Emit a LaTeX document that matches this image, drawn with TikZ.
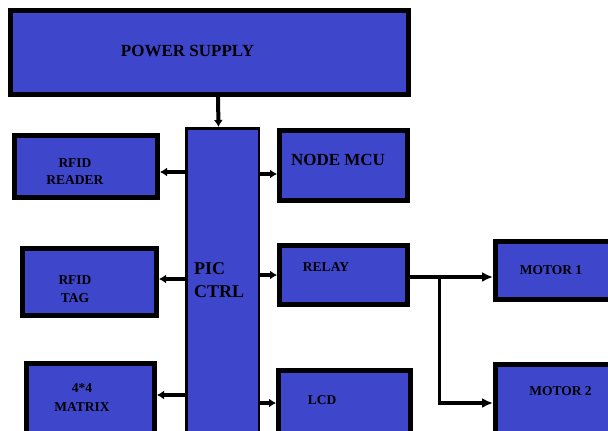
\documentclass[tikz,border=0pt]{standalone}
\usepackage{fontspec}
\setmainfont{Liberation Serif}
\usetikzlibrary{arrows.meta}
\definecolor{boxblue}{RGB}{62,71,204}
\begin{document}
\begin{tikzpicture}[x=1pt,y=-1pt,
  blk/.style={draw=black,line width=5pt,fill=boxblue,rectangle,inner sep=0pt},
  lbl/.style={font=\bfseries\fontsize{13.5}{17.5}\selectfont,align=center,inner sep=0pt},
  biglbl/.style={font=\bfseries\fontsize{17}{21}\selectfont,align=center,inner sep=0pt},
  arr/.style={line width=4pt,-{Latex[length=7pt,width=9pt]}},
  longarr/.style={line width=4.5pt,-{Latex[length=11pt,width=10pt]}}]
\clip (0,0) rectangle (608,431);
\fill[white] (0,0) rectangle (608,431);
% boxes
\node[blk,minimum width=398pt,minimum height=84pt] (power) at (209.5,52.5) {};
\node[draw=black,line width=2.5pt,fill=boxblue,inner sep=0pt,minimum width=72.5pt,minimum height=315.5pt] (pic) at (222.5,286) {};
\node[blk,minimum width=143pt,minimum height=62pt] (reader) at (86,166.5) {};
\node[blk,minimum width=128pt,minimum height=70pt] (nodemcu) at (343.5,165.5) {};
\node[blk,minimum width=134pt,minimum height=67pt] (tag) at (89.5,282) {};
\node[blk,minimum width=128pt,minimum height=59pt] (relay) at (343.5,275) {};
\node[blk,minimum width=128pt,minimum height=79pt] (matrix) at (90.5,403) {};
\node[blk,minimum width=132pt,minimum height=72pt] (lcd) at (344.5,406.5) {};
\node[blk,minimum width=122pt,minimum height=58pt] (motor1) at (556.5,270.5) {};
\node[blk,minimum width=122pt,minimum height=78pt] (motor2) at (556.5,403.5) {};
% labels
\node[biglbl] (powert) at (187.5,51) {POWER SUPPLY};
\node[lbl] (readert) at (75,171.5) {RFID\\READER};
\node[biglbl] (nodemcut) at (338,159.5) {NODE MCU};
\node[lbl,font=\bfseries\fontsize{13.5}{18}\selectfont] (tagt) at (75,289) {RFID\\TAG};
\node[biglbl,align=left,anchor=west,font=\bfseries\fontsize{18}{23.5}\selectfont] (pict) at (194,280) {PIC\\CTRL};
\node[lbl] (relayt) at (326,267.5) {RELAY};
\node[lbl,font=\bfseries\fontsize{13.5}{19}\selectfont] (matrixt) at (82,397.5) {4*4\\MATRIX};
\node[lbl] (lcdt) at (322,400) {LCD};
\node[lbl] (motor1t) at (551,270.5) {MOTOR 1};
\node[lbl] (motor2t) at (560.5,391) {MOTOR 2};
% connectors
\draw[arr] ([xshift=8.5pt]power.south) -- ([xshift=-4pt]pic.north);
\draw[arr] (pic.west |- 0,172) -- (reader.east |- 0,172);
\draw[arr] (pic.east |- 0,174) -- (nodemcu.west |- 0,174);
\draw[arr] (pic.west |- 0,279) -- (tag.east |- 0,279);
\draw[arr] (pic.east |- 0,275) -- (relay.west |- 0,275);
\draw[arr] (pic.west |- 0,395) -- (matrix.east |- 0,395);
\draw[arr] (pic.east |- 0,403) -- (lcd.west |- 0,403);
\coordinate (br) at (439,277);
\draw[longarr] (relay.east |- 0,277) -- (motor1.west |- 0,277);
\draw[line width=3pt] (br) -- (439,403);
\draw[longarr] (437.5,403) -- (motor2.west |- 0,403);
\end{tikzpicture}
\end{document}
